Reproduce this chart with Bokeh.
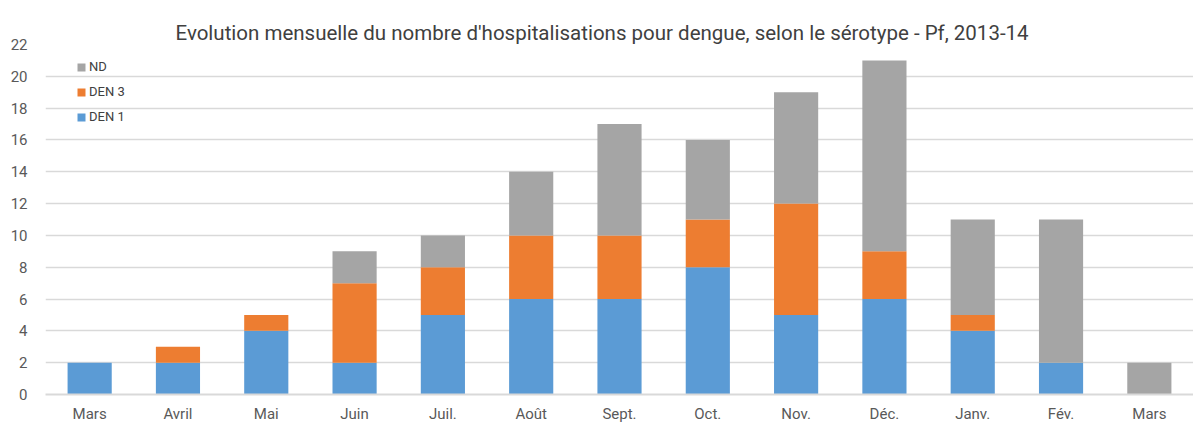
from bokeh.plotting import figure
from bokeh.models import ColumnDataSource, Range1d, FixedTicker, Legend, LegendItem
from bokeh.embed import file_html
from bokeh.resources import INLINE

months = ["Mars", "Avril", "Mai", "Juin", "Juil.", "Août", "Sept.", "Oct.", "Nov.", "Déc.", "Janv.", "Fév.", "Mars"]
den1 = [2, 2, 4, 2, 5, 6, 6, 8, 5, 6, 4, 2, 0]
den3 = [0, 1, 1, 5, 3, 4, 4, 3, 7, 3, 1, 0, 0]
nd = [0, 0, 0, 2, 2, 4, 7, 5, 7, 12, 6, 9, 2]
series = ["DEN 1", "DEN 3", "ND"]
colors = ["#5B9BD5", "#ED7D31", "#A5A5A5"]
y_ticks = list(range(0, 23, 2))
title = "Evolution mensuelle du nombre d'hospitalisations pour dengue, selon le sérotype - Pf, 2013-14"

xs = list(range(len(months)))
source = ColumnDataSource(dict(x=xs, **{"DEN 1": den1, "DEN 3": den3, "ND": nd}))

FONT = "Roboto"

p = figure(frame_width=1148, frame_height=350, output_backend="svg", toolbar_location=None,
           x_range=Range1d(-0.5, len(months) - 0.5), y_range=Range1d(0, 22))
p.min_border_left = 45
p.min_border_right = 0
p.min_border_bottom = 0
p.min_border_top = 44
p.outline_line_color = None

renderers = p.vbar_stack(series, x="x", width=0.5, source=source, color=colors, line_color=None)

p.title.text = title
p.title.align = "left"
p.title.offset = 130
p.title.text_font = FONT
p.title.text_font_size = "20.5px"
p.title.text_font_style = "normal"
p.title.text_color = "#404040"
p.title.standoff = 0

p.xaxis.ticker = FixedTicker(ticks=xs)
p.xaxis.major_label_overrides = {i: m for i, m in enumerate(months)}
p.yaxis.ticker = FixedTicker(ticks=y_ticks)
for ax in (p.xaxis, p.yaxis):
    ax.major_tick_line_color = None
    ax.minor_tick_line_color = None
    ax.major_tick_out = 0
    ax.major_tick_in = 0
    ax.major_label_text_font = FONT
    ax.major_label_text_font_size = "15px"
    ax.major_label_text_color = "#595959"
p.yaxis.axis_line_color = None
p.yaxis.major_label_standoff = 18
p.xaxis.axis_line_color = "#D9D9D9"
p.xaxis.axis_line_width = 2
p.xaxis.major_label_standoff = 10

p.xgrid.grid_line_color = None
p.ygrid.grid_line_color = "#D9D9D9"
p.ygrid.grid_line_width = 1.5

legend = Legend(items=[LegendItem(label=s, renderers=[r]) for s, r in reversed(list(zip(series, renderers)))],
                location=(31, 270))
legend.background_fill_alpha = 0
legend.border_line_color = None
legend.padding = 0
legend.margin = 0
legend.label_text_font = FONT
legend.label_text_font_size = "13px"
legend.label_text_color = "#404040"
legend.glyph_width = 10
legend.glyph_height = 10
legend.spacing = 10
legend.label_standoff = 3
p.add_layout(legend)

open("out.html", "w").write(file_html(p, INLINE))
